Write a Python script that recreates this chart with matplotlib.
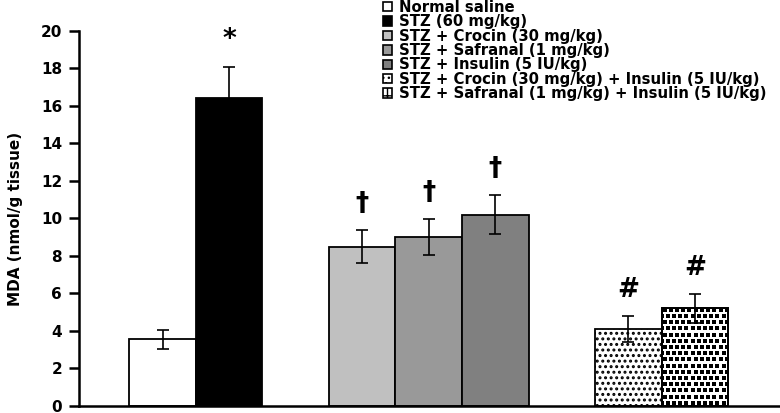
import numpy as np
import matplotlib
matplotlib.use("Agg")
import matplotlib.pyplot as plt
from matplotlib.patches import Rectangle

plt.rcParams['font.family'] = ['DejaVu Sans']
plt.rcParams['font.weight'] = 'bold'

# data
groups = ['Normal saline', 'STZ (60 mg/kg)', 'STZ + Crocin (30 mg/kg)',
          'STZ + Safranal (1 mg/kg)', 'STZ + Insulin (5 IU/kg)',
          'STZ + Crocin (30 mg/kg) + Insulin (5 IU/kg)',
          'STZ + Safranal (1 mg/kg) + Insulin (5 IU/kg)']
mda = [3.55, 16.4, 8.5, 9.0, 10.2, 4.1, 5.2]
sem = [0.5, 1.7, 0.87, 0.97, 1.05, 0.7, 0.75]
marks = ['', '*', '\u2020', '\u2020', '\u2020', '#', '#']

pos = [1, 2, 4, 5, 6, 8, 9]
colors = ['white', 'black', '#c0c0c0', '#999999', '#808080', 'white', 'white']
hatches = [None, None, None, None, None, '...', None]
textured = [False, False, False, False, False, False, True]

fig = plt.figure(figsize=(7.8, 4.13), dpi=100)
ax = fig.add_axes([0.101, 0.017, 0.899, 0.908])
ax.set_xlim(-0.26, 10.28)
ax.set_ylim(0, 20)

px_x = 66.5   # pixels per x unit
px_y = 18.75  # pixels per y unit

handles = []
for i in range(len(mda)):
    with plt.rc_context({'hatch.linewidth': 1.4}):
        b = ax.bar(pos[i], mda[i], width=1.0, color=colors[i], edgecolor='black',
                   linewidth=1.3, hatch=hatches[i], zorder=2)
        h = Rectangle((0, 0), 1, 1, facecolor=colors[i], edgecolor='black',
                      lw=1.2, hatch=hatches[i])
    if textured[i]:
        # dense square-dot texture clipped to the bar
        sx, sy = 6.2 / px_x, 6.2 / px_y
        ys = np.arange(sy / 2, mda[i], sy)
        tx, ty = [], []
        for r, yy in enumerate(ys):
            xs = np.arange(pos[i] - 0.5 + (r % 2) * sx / 2, pos[i] + 0.5, sx)
            tx.extend(xs)
            ty.extend([yy] * len(xs))
        sc = ax.scatter(tx, ty, marker='s', s=8.5, c='black', linewidths=0, zorder=2.5)
        sc.set_clip_path(b[0])
        ax.add_patch(Rectangle((pos[i] - 0.5, 0), 1.0, mda[i], fill=False,
                               edgecolor='black', lw=1.3, zorder=3))
        with plt.rc_context({'hatch.linewidth': 2.0}):
            h = Rectangle((0, 0), 1, 1, facecolor='white', edgecolor='black',
                          lw=1.2, hatch='++')
    handles.append(h)
    ax.errorbar(pos[i], mda[i], yerr=sem[i], fmt='none', ecolor='black',
                elinewidth=1.2, capsize=4.3, capthick=1.2, zorder=4)
    if marks[i]:
        ax.annotate(marks[i], (pos[i], mda[i] + sem[i]), xytext=(0, 19),
                    textcoords='offset points', ha='center', va='center',
                    fontsize=19, fontweight='bold')

ax.set_yticks(range(0, 21, 2))
ax.set_xticks([])
ax.tick_params(axis='y', direction='out', length=7, width=1.8, labelsize=11, pad=5)
for lab in ax.get_yticklabels():
    lab.set_fontweight('bold')
ax.spines['top'].set_visible(False)
ax.spines['right'].set_visible(False)
ax.spines['left'].set_linewidth(1.8)
ax.spines['bottom'].set_linewidth(1.8)
ax.set_ylabel('MDA (nmol/g tissue)', fontsize=11, fontweight='bold')
ax.yaxis.set_label_coords(-0.079, 0.5)

leg = ax.legend(handles, groups, loc='upper left', bbox_to_anchor=(0.434, 1.083),
                frameon=False, fontsize=10.7, labelspacing=-0.04, handlelength=0.6,
                handleheight=0.6, handletextpad=0.5, borderpad=0, borderaxespad=0)

fig.savefig('out.png', dpi=100)
